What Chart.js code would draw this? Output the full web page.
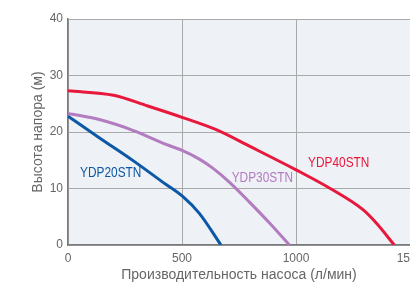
<!DOCTYPE html>
<html>
<head>
<meta charset="utf-8">
<script src="https://cdn.jsdelivr.net/npm/chart.js@4"></script>
<style>
  html, body { margin: 0; padding: 0; background: #fff; }
  #wrap { width: 410px; height: 284px; }
</style>
</head>
<body>
<div id="wrap"><canvas id="pumpChart"></canvas></div>
<script>
// Pump curves — head (m) vs flow (l/min)
const seriesNames = ["YDP20STN", "YDP30STN", "YDP40STN"];
const seriesColors = ["#0b58a6", "#b37bc0", "#e8173c"];

const flow20 = [0, 140, 290, 420, 503, 576, 671];
const head20 = [22.8, 18.9, 14.8, 11.0, 8.6, 5.6, 0];

const flow30 = [0, 137, 284, 430, 503, 576, 635, 711, 798, 886, 971];
const head30 = [23.3, 22.2, 20.3, 17.8, 16.7, 15.2, 13.6, 11.0, 7.5, 3.8, 0];

const flow40 = [0, 200, 350, 500, 650, 800, 1000, 1150, 1295, 1354, 1431];
const head40 = [27.3, 26.5, 24.6, 22.6, 20.4, 17.4, 13.3, 10.0, 6.2, 3.8, 0];

// where the series names sit (data units: flow, head)
const labelFlow = [53, 718, 1053];
const labelHead = [12.7, 11.9, 14.5];

const xTicks = [0, 500, 1000, 1500];
const yTicks = [0, 10, 20, 30, 40];

const toPoints = (xs, ys) => xs.map((x, i) => ({ x: x, y: ys[i] }));
const allFlows = [flow20, flow30, flow40];
const allHeads = [head20, head30, head40];

// light plot background + series name labels
const plotDecor = {
  id: "plotDecor",
  beforeDraw(chart) {
    const { ctx, chartArea: a } = chart;
    ctx.save();
    ctx.fillStyle = "#eef1f5";
    ctx.fillRect(a.left, a.top, a.right - a.left, a.bottom - a.top);
    ctx.restore();
  },
  afterDatasetsDraw(chart) {
    const { ctx, scales } = chart;
    seriesNames.forEach((name, i) => {
      ctx.save();
      ctx.translate(scales.x.getPixelForValue(labelFlow[i]), scales.y.getPixelForValue(labelHead[i]));
      ctx.scale(0.79, 1); // condensed look
      ctx.font = '15px "Liberation Sans", sans-serif';
      ctx.textAlign = "left";
      ctx.textBaseline = "middle";
      ctx.fillStyle = seriesColors[i];
      ctx.fillText(name, 0, 0);
      ctx.restore();
    });
  },
};

const pumpChart = new Chart(document.getElementById("pumpChart"), {
  type: "line",
  data: {
    datasets: seriesNames.map((name, i) => ({
      label: name,
      data: toPoints(allFlows[i], allHeads[i]),
      borderColor: seriesColors[i],
      borderWidth: 3,
      pointRadius: 0,
      fill: false,
      cubicInterpolationMode: "monotone",
    })),
  },
  options: {
    responsive: true,
    maintainAspectRatio: false,
    animation: false,
    layout: { padding: { top: 19, right: 0, left: 0, bottom: 0 } },
    scales: {
      x: {
        type: "linear",
        min: 0,
        max: 1500,
        afterBuildTicks: (s) => { s.ticks = xTicks.map((v) => ({ value: v })); },
        afterFit: (s) => { s.height = 39; s.paddingLeft = 0; s.paddingRight = 0; },
        grid: { color: "#a9a9a9", lineWidth: 1, drawTicks: false },
        border: { color: "#7a7a7a", width: 1.5 },
        ticks: { color: "#666", padding: 6, font: { family: "Liberation Sans", size: 12 }, callback: (v) => String(v) },
        title: {
          display: true,
          text: "Производительность насоса (л/мин)",
          color: "#666",
          padding: 0,
          font: { family: "Liberation Sans", size: 14 },
        },
      },
      y: {
        min: 0,
        max: 40,
        afterBuildTicks: (s) => { s.ticks = yTicks.map((v) => ({ value: v })); },
        afterFit: (s) => { s.width = 68; s.paddingTop = 0; s.paddingBottom = 0; },
        grid: { color: "#a9a9a9", lineWidth: 1, drawTicks: false },
        border: { color: "#7a7a7a", width: 1.5 },
        ticks: { color: "#666", padding: 5, font: { family: "Liberation Sans", size: 12 }, callback: (v) => String(v) },
        title: {
          display: true,
          text: "Высота напора (м)",
          color: "#666",
          padding: { top: 30, bottom: 0 },
          font: { family: "Liberation Sans", size: 14 },
        },
      },
    },
    plugins: {
      legend: { display: false },
      tooltip: { enabled: false },
    },
  },
  plugins: [plotDecor],
});
</script>
</body>
</html>
